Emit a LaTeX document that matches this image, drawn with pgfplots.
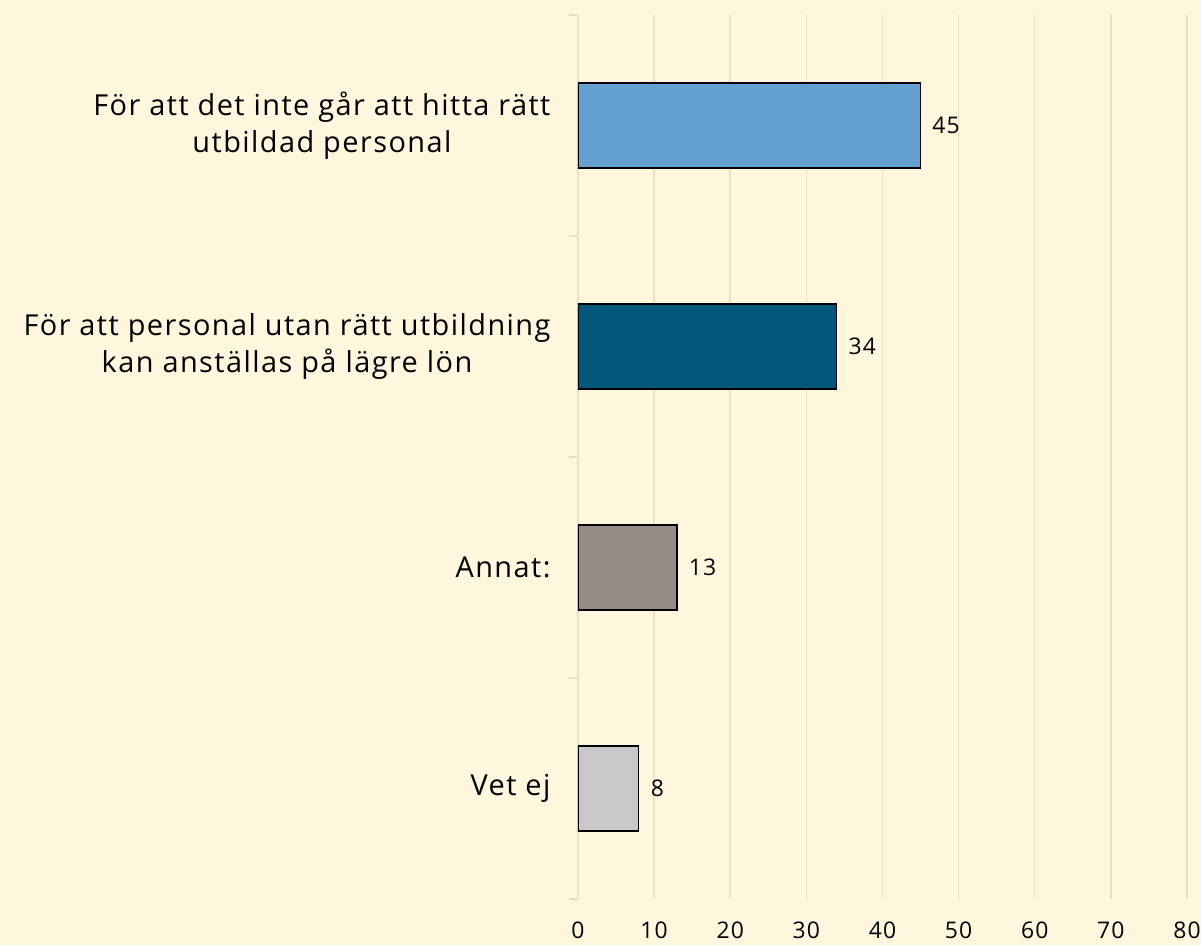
\documentclass[border=0pt]{standalone}
\usepackage{fontspec}
\setmainfont{Open Sans}[LetterSpace=5]
\usepackage{pgfplots}
\pgfplotsset{compat=1.18}
\definecolor{bg}{HTML}{FFF7DD}
\definecolor{gridc}{HTML}{E8DFC6}
\definecolor{cA}{HTML}{63A0CF}
\definecolor{cB}{HTML}{03577A}
\definecolor{cC}{HTML}{968D84}
\definecolor{cD}{HTML}{C8C8C8}
\begin{document}
\begin{tikzpicture}[x=1bp,y=1bp]
\fill[bg] (-578,-46) rectangle (623,899);
\begin{axis}[
  at={(0,0)}, anchor=south west,
  scale only axis, width=609bp, height=884bp,
  xbar, bar width=0.385, bar shift=0pt,
  xmin=0, xmax=80, xtick={0,10,...,80},
  ymin=-0.5, ymax=3.5, y dir=reverse,
  ytick={0,1,2,3},
  yticklabels={{För att det inte går att hitta rätt\\utbildad personal},{För att personal utan rätt utbildning\\kan anställas på lägre lön},{Annat:},{Vet ej}},
  minor ytick={-0.5,0.5,1.5,2.5,3.5},
  tick pos=left,
  major tick length=0pt, minor tick length=9bp, tick align=outside,
  tick style={color=gridc, line width=1.2bp},
  axis line style={draw=none},
  xmajorgrids, grid style={color=gridc, line width=1.5bp},
  yticklabel style={align=center, font=\fontsize{29}{37}\selectfont, xshift=-24bp},
  xticklabel style={font=\fontsize{23}{27}\selectfont, yshift=-19bp},
  /pgf/number format/assume math mode=true,
  nodes near coords, nodes near coords align={horizontal},
  every node near coord/.append style={font=\fontsize{23}{26}\selectfont, black, xshift=8bp},
  axis background/.style={fill=bg},
]
\addplot[fill=cA, draw=black, line width=1.2bp] coordinates {(45,0)};
\addplot[fill=cB, draw=black, line width=1.2bp] coordinates {(34,1)};
\addplot[fill=cC, draw=black, line width=1.2bp] coordinates {(13,2)};
\addplot[fill=cD, draw=black, line width=1.2bp] coordinates {(8,3)};
\end{axis}
\pgfresetboundingbox
\path[use as bounding box] (-578,-46) rectangle (623,899);
\end{tikzpicture}
\end{document}
